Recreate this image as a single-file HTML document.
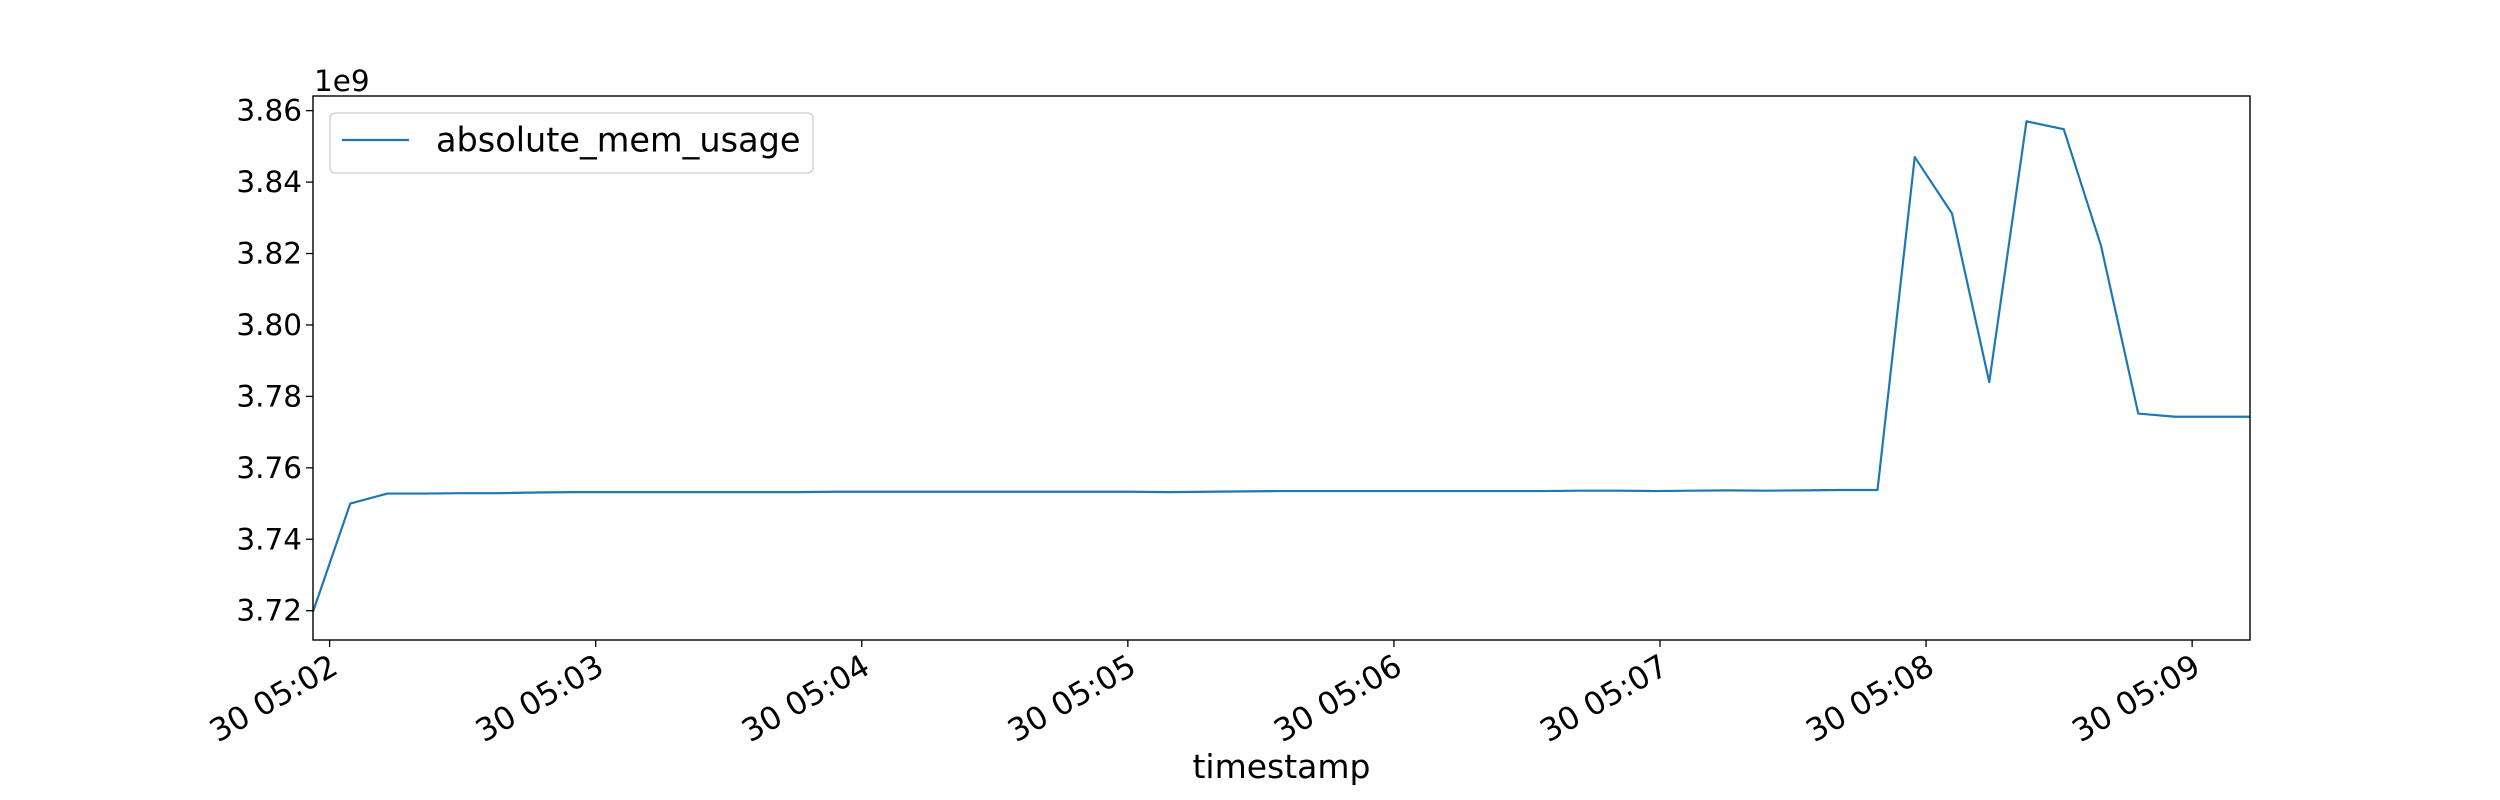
<!DOCTYPE html>
<html><head><meta charset="utf-8"><style>
html,body{margin:0;padding:0;background:#fff;}
svg{display:block;font-family:"DejaVu Sans","Liberation Sans",sans-serif;}
</style></head><body>
<svg id="chart" width="2500" height="800" viewBox="0 0 2500 800">
<rect x="0" y="0" width="2500" height="800" fill="#fff"/>
<g id="plot"></g>
</svg>
<script>
// data
const sampleOffsetsSec = [];
for (let i = 0; i < 53; i++) sampleOffsetsSec.push(i);
const sampleIntervalSec = 8.4;
const startSec = -3.75; // relative to 05:02:00
const memValues = [3.7197,3.7500,3.7528,3.7528,3.7529,3.7529,3.7531,3.7532,3.7532,3.7532,
3.7532,3.7532,3.7532,3.7532,3.7533,3.7533,3.7533,3.7533,3.7533,3.7533,
3.7533,3.7533,3.7533,3.7532,3.7533,3.7534,3.7535,3.7535,3.7535,3.7535,
3.7535,3.7535,3.7535,3.7535,3.7536,3.7536,3.7535,3.7536,3.7537,3.7536,
3.7537,3.7538,3.7538,3.8470,3.8312,3.7840,3.8570,3.8548,3.8222,3.7752,
3.7743,3.7743,3.7743];
const yTicks = [3.72,3.74,3.76,3.78,3.80,3.82,3.84,3.86];
const yTickLabels = ["3.72","3.74","3.76","3.78","3.80","3.82","3.84","3.86"];
const xTickMinutes = [0,1,2,3,4,5,6,7];
const xTickLabels = ["30 05:02","30 05:03","30 05:04","30 05:05","30 05:06","30 05:07","30 05:08","30 05:09"];
const seriesName = "absolute_mem_usage";

const L=313,R=2250,T=96,B=640;
const xMinMin=-0.0625, xMaxMin=7.2175;
const yMin=3.7118, yMax=3.8641;
const xs=m=>L+(m-xMinMin)/(xMaxMin-xMinMin)*(R-L);
const ys=v=>B-(v-yMin)/(yMax-yMin)*(B-T);
const NS="http://www.w3.org/2000/svg";
const g=document.getElementById('plot');
function mk(tag,attrs,parent){const e=document.createElementNS(NS,tag);for(const k in attrs)e.setAttribute(k,attrs[k]);(parent||g).appendChild(e);return e;}

const pts=memValues.map((v,i)=>{const m=(startSec+sampleOffsetsSec[i]*sampleIntervalSec)/60;return xs(m).toFixed(2)+','+ys(v).toFixed(2);}).join(' ');
const line=mk('polyline',{points:pts,fill:'none',stroke:'#1f77b4','stroke-width':2.2,'stroke-linejoin':'round'});



const frame=mk('rect',{x:L,y:T,width:R-L,height:B-T,fill:'none',stroke:'#000','stroke-width':1.4});



yTicks.forEach((v,i)=>{
  const y=ys(v);
  const t=mk('line',{x1:L-7,x2:L,y1:y,y2:y,stroke:'#000','stroke-width':1.3});
  
  
  const tx=mk('text',{x:L-11,y:y,'text-anchor':'end','dominant-baseline':'central','font-size':29.5,fill:'#000'});
  tx.textContent=yTickLabels[i];
  
  
});
xTickMinutes.forEach((m,i)=>{
  const x=xs(m);
  const t=mk('line',{x1:x,x2:x,y1:B,y2:B+7,stroke:'#000','stroke-width':1.3});
  
  
  const tx=mk('text',{transform:`translate(${x-1},${B+13}) rotate(-30)`,'text-anchor':'end','dominant-baseline':'hanging','font-size':31.5,fill:'#000'});
  tx.textContent=xTickLabels[i];
  
  
});
const off=mk('text',{x:314,y:91,'font-size':29.5,fill:'#000'});
off.textContent='1e9';


const xl=mk('text',{x:(L+R)/2,y:778,'text-anchor':'middle','font-size':33,fill:'#000'});
xl.textContent='timestamp';


const lg=mk('g',{});


mk('rect',{x:330,y:113,width:483,height:60,rx:5,fill:'#fff','fill-opacity':0.8,stroke:'#ccc','stroke-width':1.3},lg);
const ll=mk('line',{x1:342,x2:409,y1:140,y2:140,stroke:'#1f77b4','stroke-width':2.2},lg);


const lt=mk('text',{x:436,y:140,'dominant-baseline':'central','font-size':33.5,fill:'#000'},lg);
lt.textContent=seriesName;


</script>
</body></html>
